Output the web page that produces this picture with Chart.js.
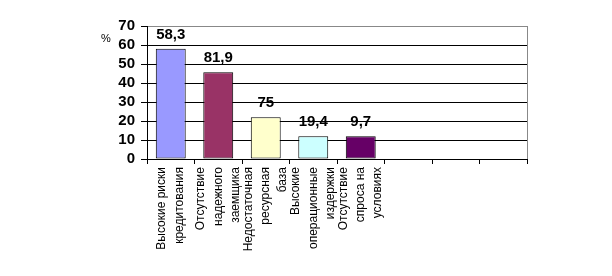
<!DOCTYPE html>
<html>
<head>
<meta charset="utf-8">
<script src="https://cdn.jsdelivr.net/npm/chart.js@4"></script>
<style>
  body { margin: 0; background: #fff; }
  canvas { display: block; }
</style>
</head>
<body>
<canvas id="grafico" width="612" height="276"></canvas>
<script>
// categorias (eje X), 8 huecos, los 3 ultimos vacios
const categorias = [
    ["Высокие риски", "кредитования"],
    ["Отсутствие", "надежного", "заемщика"],
    ["Недостаточная", "ресурсная", "база"],
    ["Высокие", "операционные", "издержки"],
    ["Отсутствие", "спроса на", "условиях"],
    "", "", ""
];
// alturas de las barras tal como se ven en la imagen
const valores = [58, 45.6, 22, 12, 12, null, null, null];
// textos encima de cada barra
const etiquetasValor = ["58,3", "81,9", "75", "19,4", "9,7"];
const coloresBarras = ["#9999FF", "#993366", "#FFFFCC", "#CCFFFF", "#660066"];
const ticksY = [0, 10, 20, 30, 40, 50, 60, 70];

const fuente = "Arial, 'Liberation Sans', sans-serif";
const altoLinea = 12 * 1.45;

const pluginTextos = {
    id: "textos",
    beforeDraw(chart) {
        // centrar las etiquetas de varias lineas sobre su marca
        const items = chart.scales.x.getLabelItems();
        items.forEach(it => {
            const tr = it.options && it.options.translation;
            if (!tr || it._centrado) return;
            const n = Array.isArray(it.label) ? it.label.length : 1;
            tr[0] -= (n - 1) * altoLinea / 2;
            it._centrado = true;
        });
    },
    afterDatasetsDraw(chart) {
        const ctx = chart.ctx;
        const meta = chart.getDatasetMeta(0);
        ctx.save();
        ctx.font = "bold 15px " + fuente;
        ctx.fillStyle = "#000";
        ctx.textAlign = "center";
        ctx.textBaseline = "alphabetic";
        meta.data.forEach((barra, i) => {
            if (etiquetasValor[i]) {
                ctx.fillText(etiquetasValor[i], barra.x, barra.y - 10);
            }
        });
        // simbolo % junto al eje
        ctx.font = "11px " + fuente;
        ctx.textAlign = "left";
        ctx.textBaseline = "middle";
        ctx.fillText("%", 101, 39);
        ctx.restore();
    }
};

new Chart(document.getElementById("grafico"), {
    type: "bar",
    data: {
        labels: categorias,
        datasets: [{
            data: valores,
            backgroundColor: coloresBarras,
            borderColor: "#000",
            borderWidth: 1,
            borderSkipped: false,
            categoryPercentage: 1,
            barPercentage: 0.63
        }]
    },
    options: {
        responsive: false,
        animation: false,
        layout: { padding: { top: 26, right: 85, bottom: 0, left: 0 } },
        plugins: { legend: { display: false }, tooltip: { enabled: false } },
        scales: {
            x: {
                afterFit: s => { s.height = 117; },
                grid: {
                    offset: true,
                    drawOnChartArea: false,
                    drawTicks: true,
                    tickLength: 5,
                    tickColor: "#000"
                },
                border: { color: "#000", width: 1 },
                ticks: {
                    autoSkip: false,
                    maxRotation: 90,
                    minRotation: 90,
                    padding: 3,
                    color: "#000",
                    font: { family: fuente, size: 12, lineHeight: 1.45 }
                }
            },
            y: {
                min: 0,
                max: 70,
                afterFit: s => { s.width = 147; },
                afterBuildTicks: s => { s.ticks = ticksY.map(v => ({ value: v })); },
                grid: {
                    color: c => c.tick && c.tick.value === 70 ? "#888" : "#000",
                    tickColor: "#000",
                    tickLength: 6
                },
                border: { color: "#000", width: 1 },
                ticks: {
                    autoSkip: false,
                    padding: 6,
                    color: "#000",
                    font: { family: fuente, size: 15, weight: "bold" }
                }
            }
        }
    },
    plugins: [pluginTextos, {
        id: "bordeDerecho",
        beforeDatasetsDraw(chart) {
            const a = chart.chartArea;
            const ctx = chart.ctx;
            ctx.save();
            ctx.strokeStyle = "#888";
            ctx.lineWidth = 1;
            ctx.beginPath();
            ctx.moveTo(Math.round(a.right) + 0.5, a.top);
            ctx.lineTo(Math.round(a.right) + 0.5, a.bottom);
            ctx.stroke();
            ctx.restore();
        }
    }]
});
</script>
</body>
</html>
